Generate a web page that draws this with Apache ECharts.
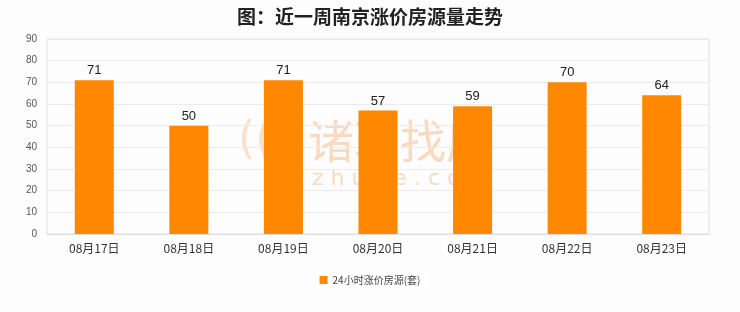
<!DOCTYPE html>
<html><head><meta charset="utf-8">
<script src="https://cdn.jsdelivr.net/npm/echarts@6/dist/echarts.min.js"></script>
<style>html,body{margin:0;padding:0;background:#fdfdfd}#c{width:740px;height:312px}</style>
</head><body><div id="c"></div>
<script>
var categories = ['08月17日','08月18日','08月19日','08月20日','08月21日','08月22日','08月23日'];
var values = [71, 50, 71, 57, 59, 70, 64];
var seriesName = '24小时涨价房源(套)';
var titleText = '图：近一周南京涨价房源量走势';

var chart = echarts.init(document.getElementById('c'));
chart.setOption({
  backgroundColor: '#fdfdfd',
  animation: false,
  title: {
    text: titleText, left: 'center', top: 2,
    textStyle: {fontSize: 19, fontWeight: 'bold', color: '#222', fontFamily: 'Noto Sans CJK SC'}
  },
  graphic: [
    {type: 'text', left: 308, top: 118, z: 0, style: {text: '诸葛找房', fontSize: 46, fill: 'rgba(245,190,140,0.55)', fontFamily: 'Noto Sans CJK SC'}},
    {type: 'text', left: 312, top: 168, z: 0, style: {text: 'z h u g e . c o m', fontSize: 22, fill: 'rgba(245,190,140,0.55)', fontFamily: 'DejaVu Sans'}},
    {type: 'text', left: 238, top: 120, z: 0, style: {text: '(((', fontSize: 44, fill: 'rgba(245,190,140,0.45)', fontFamily: 'DejaVu Sans'}}
  ],
  grid: {left: 47, right: 31, top: 39, bottom: 78, show: true, borderColor: '#e0e0e0', borderWidth: 1, backgroundColor: 'transparent'},
  legend: {
    bottom: 22, left: 'center', itemWidth: 8, itemHeight: 8, icon: 'rect',
    backgroundColor: '#ffffff', padding: [5, 8],
    textStyle: {fontSize: 10, color: '#444', fontFamily: 'Noto Sans CJK SC'}
  },
  xAxis: {
    type: 'category', data: categories,
    axisLine: {lineStyle: {color: '#ddd'}}, axisTick: {show: false},
    axisLabel: {fontSize: 12, color: '#333', margin: 8, fontFamily: 'Noto Sans CJK SC'}
  },
  yAxis: {
    type: 'value', min: 0, max: 90, interval: 10,
    axisLine: {show: false}, axisTick: {show: false},
    axisLabel: {fontSize: 10, color: '#555', margin: 10},
    splitLine: {lineStyle: {color: '#ebebeb'}}
  },
  series: [{
    name: seriesName, type: 'bar', data: values, barWidth: 39, z: 2,
    itemStyle: {color: '#ff8800'},
    label: {show: true, position: 'top', fontSize: 13, color: '#222', distance: 3}
  }]
});
</script></body></html>
